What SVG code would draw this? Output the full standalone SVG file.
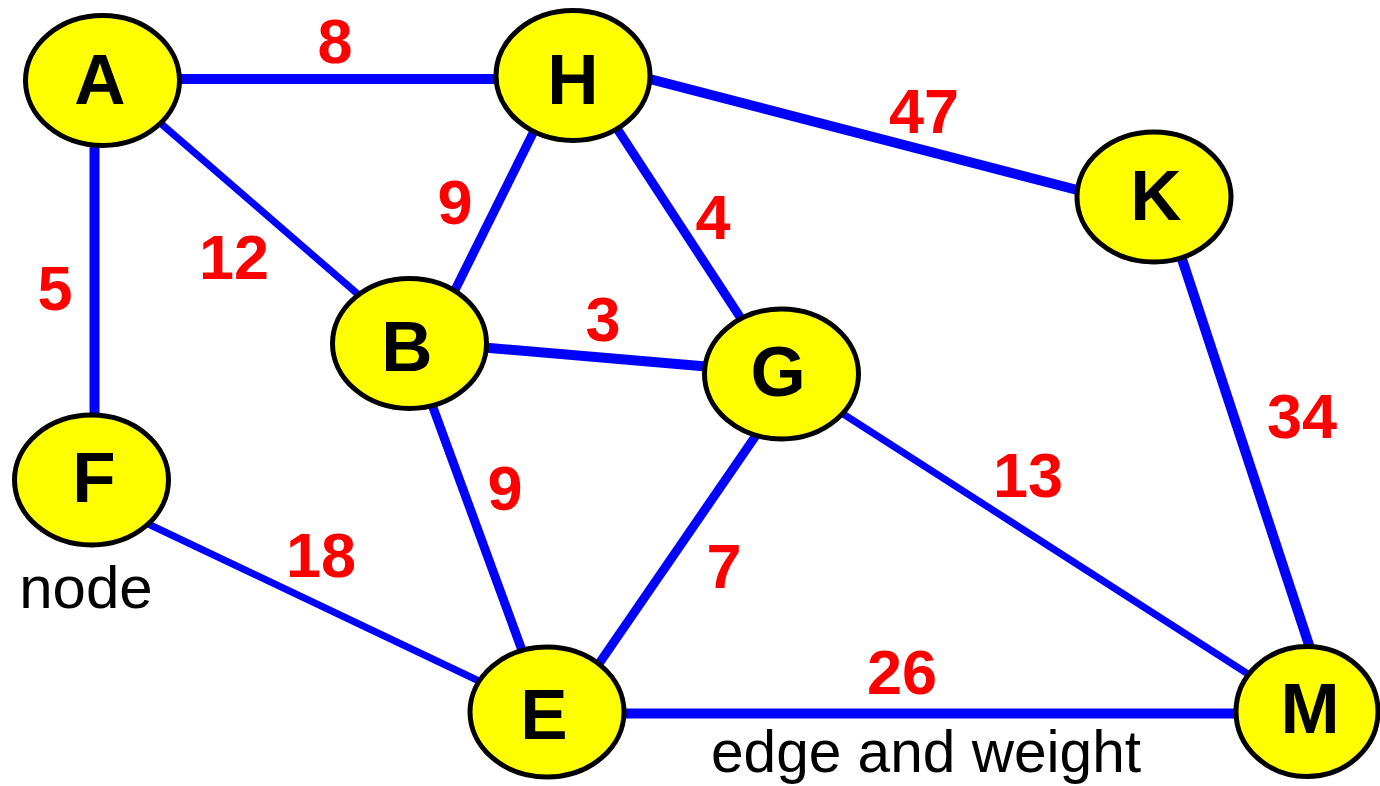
<svg xmlns="http://www.w3.org/2000/svg" width="1380" height="786" viewBox="0 0 1380 786">
  <style>
    .edge { stroke: #0000ff; stroke-linecap: butt; fill: none; }
    .node ellipse { fill: #ffff00; stroke: #000000; stroke-width: 5; }
    .node text { font-family: "Liberation Sans", Arial, sans-serif; font-weight: bold; font-size: 71px; fill: #000000; text-anchor: middle; }
    .w { font-family: "Liberation Sans", Arial, sans-serif; font-weight: bold; font-size: 63px; fill: #ff0000; text-anchor: middle; }
    .cap { font-family: "Liberation Sans", Arial, sans-serif; font-size: 60px; fill: #000000; text-anchor: middle; }
  </style>
  <rect width="1380" height="786" fill="#ffffff"/>
  <g id="connectors">
    <line id="e-A-H" class="edge" x1="170" y1="79" x2="505" y2="79" stroke-width="10"/>
    <line id="e-A-F" class="edge" x1="94.5" y1="140" x2="94.5" y2="420" stroke-width="10"/>
    <line id="e-A-B" class="edge" x1="158" y1="121" x2="360" y2="296" stroke-width="7"/>
    <line id="e-H-B" class="edge" x1="535" y1="129" x2="452" y2="296" stroke-width="9"/>
    <line id="e-H-G" class="edge" x1="616" y1="127" x2="742" y2="320" stroke-width="9"/>
    <line id="e-H-K" class="edge" x1="642" y1="77" x2="1085" y2="192" stroke-width="10"/>
    <line id="e-K-M" class="edge" x1="1181" y1="256" x2="1311" y2="651" stroke-width="10"/>
    <line id="e-B-G" class="edge" x1="478" y1="347" x2="712" y2="367" stroke-width="10"/>
    <line id="e-B-E" class="edge" x1="431" y1="402" x2="523" y2="653" stroke-width="9"/>
    <line id="e-G-E" class="edge" x1="759" y1="431" x2="596" y2="668" stroke-width="9"/>
    <line id="e-G-M" class="edge" x1="837" y1="410" x2="1248" y2="674" stroke-width="7"/>
    <line id="e-F-E" class="edge" x1="144" y1="522" x2="479" y2="681" stroke-width="7"/>
    <line id="e-E-M" class="edge" x1="615" y1="713.5" x2="1245" y2="713.5" stroke-width="10"/>
  </g>
  <g id="weights">
    <text class="w" x="335" y="63">8</text>
    <text class="w" x="234" y="279">12</text>
    <text class="w" x="55" y="310">5</text>
    <text class="w" x="455" y="224">9</text>
    <text class="w" x="713" y="239">4</text>
    <text class="w" x="924" y="133">47</text>
    <text class="w" x="603" y="341">3</text>
    <text class="w" x="505" y="510">9</text>
    <text class="w" x="1028" y="497">13</text>
    <text class="w" x="1302" y="438">34</text>
    <text class="w" x="321" y="577">18</text>
    <text class="w" x="724" y="588">7</text>
    <text class="w" x="902" y="694">26</text>
  </g>
  <g id="node-A" class="node">
    <ellipse cx="102.5" cy="80.5" rx="77" ry="65"/>
    <text x="100" y="104">A</text>
  </g>
  <g id="node-H" class="node">
    <ellipse cx="573" cy="75.5" rx="77" ry="65"/>
    <text x="573" y="104">H</text>
  </g>
  <g id="node-K" class="node">
    <ellipse cx="1154" cy="197" rx="77" ry="65"/>
    <text x="1156" y="220">K</text>
  </g>
  <g id="node-B" class="node">
    <ellipse cx="409.5" cy="343.5" rx="77" ry="65"/>
    <text x="407" y="371">B</text>
  </g>
  <g id="node-G" class="node">
    <ellipse cx="781.5" cy="374" rx="77" ry="65"/>
    <text x="778" y="396">G</text>
  </g>
  <g id="node-F" class="node">
    <ellipse cx="91.5" cy="480" rx="77" ry="65"/>
    <text x="94" y="502">F</text>
  </g>
  <g id="node-E" class="node">
    <ellipse cx="547" cy="712" rx="77" ry="65"/>
    <text x="544" y="739">E</text>
  </g>
  <g id="node-M" class="node">
    <ellipse cx="1307" cy="711.5" rx="71" ry="65"/>
    <text x="1310" y="733">M</text>
  </g>
  <g id="captions">
    <text class="cap" x="86" y="608">node</text>
    <text class="cap" x="926" y="772" font-size="57" textLength="430" lengthAdjust="spacingAndGlyphs">edge and weight</text>
  </g>
</svg>
